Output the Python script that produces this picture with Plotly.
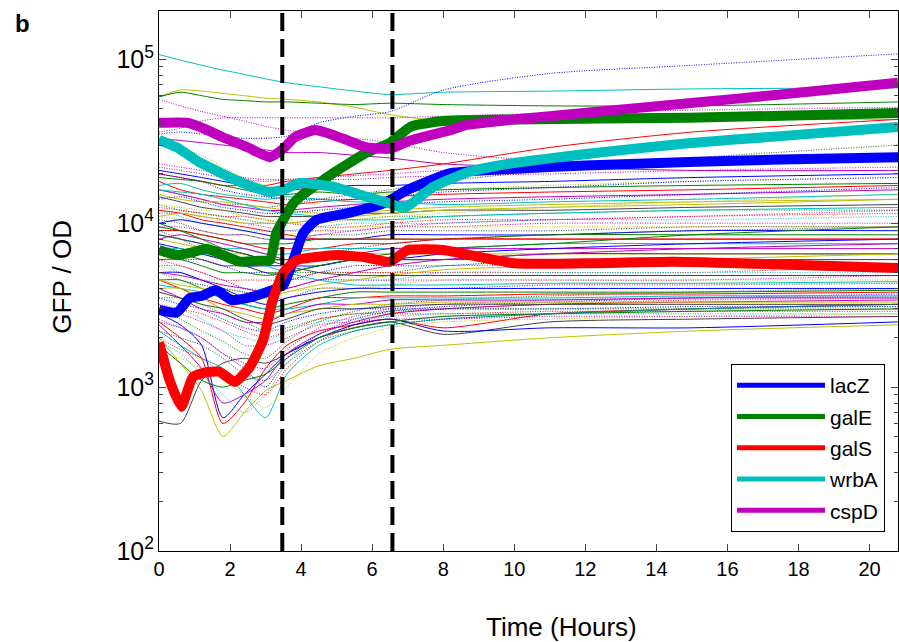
import plotly.graph_objects as go

# ---------------- data ----------------
# highlighted genes (time in hours, GFP/OD)
lacZ_t = [0, 0.5, 0.87, 1.2, 1.6, 2.04, 2.5, 3.03, 3.5, 3.78, 4.06, 4.44, 5.38, 6.32, 7.0, 8.2, 10, 12, 14.9, 17.5, 20.8]
lacZ_v = [2960, 2850, 3500, 3600, 3900, 3400, 3500, 3800, 4200, 5960, 8700, 10500, 11600, 13200, 16000, 20200, 21500, 22500, 23600, 24500, 25300]

galE_t = [0, 0.5, 1.0, 1.34, 1.8, 2.28, 2.8, 3.12, 3.3, 3.5, 3.78, 3.97, 4.9, 5.85, 6.5, 7.1, 8.0, 10, 14.9, 20.8]
galE_v = [6860, 6400, 6700, 6990, 6400, 5830, 5900, 5960, 8700, 10500, 13200, 14500, 20200, 27000, 31000, 39000, 42000, 43000, 44000, 47000]

galS_t = [0, 0.3, 0.63, 0.95, 1.3, 1.7, 2.14, 2.56, 2.93, 3.2, 3.5, 3.88, 4.5, 5.0, 5.8, 6.5, 7.0, 7.5, 8, 10, 12, 14.5, 17.5, 20.8]
galS_v = [1870, 1100, 760, 1150, 1230, 1240, 1075, 1330, 1940, 3400, 4980, 5960, 6250, 6400, 6200, 5820, 6860, 6940, 6860, 5700, 5700, 5820, 5600, 5330]

wrbA_t = [0, 0.5, 1.15, 1.7, 2.28, 2.7, 3.1, 3.5, 3.97, 4.9, 5.85, 6.5, 6.9, 7.73, 8.67, 9.6, 12.4, 14.9, 17.5, 20.8]
wrbA_v = [32300, 29000, 23500, 20500, 17900, 16500, 15500, 16000, 17600, 16700, 14500, 13200, 12400, 16700, 20400, 22600, 27000, 30800, 34000, 38600]

cspD_t = [0, 0.8, 1.3, 1.78, 2.5, 3.12, 3.5, 3.83, 4.4, 5.15, 5.85, 6.5, 7.07, 8.2, 8.67, 10, 12.4, 14.9, 17.5, 20.8]
cspD_v = [41000, 41000, 37500, 33600, 29000, 25300, 28500, 33600, 37000, 33000, 29000, 28500, 32000, 37000, 39800, 43000, 48000, 54000, 61000, 72000]

gene_names = ["lacZ", "galE", "galS", "wrbA", "cspD"]

# all other promoters, sampled at common times (GFP/OD in thousands)
bg_t = [0, 0.6, 1.2, 1.8, 2.4, 3.0, 3.6, 4.5, 5.5, 6.5, 8, 11, 15, 20.8]
bg_k = [
    # outliers
    [107, 99, 92, 86, 81, 76, 72, 68, 64, 61, 63, 64, 66, 67],
    [59, 65, 64, 62, 60, 58, 57, 55, 51, 46, 42, 42, 43, 43],
    [59, 63, 60, 57, 56, 55, 55, 54, 53, 54, 53, 52, 52, 55],
    [57, 52, 48, 45, 42, 39, 37, 35, 33, 31, 27, 24, 24, 24],
    [35, 36, 35, 34, 33, 33, 34, 41, 45, 48, 65, 82, 92, 108],
    [36, 38, 42, 44, 44, 44, 44, 44, 44, 44, 45, 47, 49, 51],
    [33, 32, 31, 30, 29, 28, 27, 27, 26, 25, 23, 22, 21, 21],
    [20, 19, 18, 17, 17, 17, 18, 19, 20, 21, 23, 29, 36, 43],
    [33, 29, 26, 22, 19, 17, 16, 16, 15.5, 15, 16, 17, 18, 19],
    [22, 21, 20, 19, 18.5, 18, 18.5, 19, 19.5, 20, 21, 22, 23, 24],
    [16, 15, 14, 13, 13, 12.5, 13, 14, 15, 16, 18, 21, 25, 30],
    # early dippers
    [2.0, 1.4, 0.95, 0.5, 0.7, 0.95, 1.1, 1.35, 1.5, 1.7, 1.8, 2.0, 2.2, 2.4],
    [0.62, 0.6, 1.1, 1.4, 1.5, 1.4, 1.6, 2.0, 2.3, 2.5, 2.1, 2.5, 2.6, 2.7],
    [2.5, 2.0, 1.5, 0.6, 0.8, 1.3, 1.8, 2.2, 2.4, 2.6, 2.3, 2.8, 3.0, 3.2],
    [2.2, 1.8, 1.5, 1.3, 0.9, 0.65, 1.2, 1.8, 2.2, 2.4, 2.6, 2.8, 3.0, 3.2],
    [2.8, 2.4, 1.8, 0.65, 0.9, 1.2, 1.6, 2.0, 2.4, 2.6, 2.2, 2.3, 2.3, 2.5],
    [2.4, 1.8, 1.3, 0.8, 0.9, 1.1, 1.6, 2.1, 2.5, 2.8, 3.0, 3.2, 3.3, 3.4],
    [1.9, 1.6, 1.2, 0.9, 0.7, 0.9, 1.4, 2.0, 2.3, 2.5, 2.7, 2.8, 3.0, 3.1],
    [1.8, 1.4, 1.1, 1.0, 1.1, 1.2, 1.5, 2.0, 2.3, 2.5, 2.7, 2.8, 2.9, 3.0],
    [1.6, 1.5, 1.3, 1.1, 0.9, 0.75, 1.0, 1.6, 2.0, 2.3, 2.5, 2.6, 2.7, 2.8],
    [2.0, 1.7, 1.5, 1.2, 1.0, 0.9, 1.3, 1.9, 2.4, 2.8, 3.0, 3.2, 3.4, 3.5],
    [2.5, 2.3, 2.0, 1.6, 1.3, 1.0, 1.5, 2.1, 2.6, 2.9, 3.1, 3.3, 3.5, 3.7],
    [2.2, 2.0, 1.8, 1.5, 1.2, 1.1, 1.4, 1.9, 2.2, 2.4, 2.6, 2.8, 3.0, 3.2],
    [2.6, 2.3, 2.0, 1.6, 1.4, 1.3, 1.7, 2.3, 2.7, 3.0, 3.2, 3.4, 3.5, 3.6],
    [3.0, 2.6, 2.2, 1.9, 1.6, 1.5, 1.9, 2.5, 2.9, 3.2, 3.4, 3.6, 3.8, 4.0],
    # main band
    [21, 20, 19, 18, 17, 16.5, 16, 16.5, 17, 17, 17.5, 18, 19, 20],
    [19, 18.5, 18, 17, 16, 15, 15, 15.5, 15, 15.5, 16, 16.5, 17, 17.5],
    [18, 16, 15, 14.5, 14, 13.5, 13, 13.5, 14, 14.5, 15, 15.5, 16, 17],
    [17, 17.5, 16, 15, 14.5, 14, 14.5, 14, 13.5, 13.5, 13, 13.5, 14, 15],
    [16, 15, 14, 13, 12.5, 12, 12, 12.5, 13, 13.5, 14, 14.5, 15, 16],
    [15, 14, 13.5, 13.5, 13, 12.5, 12, 11.5, 11.5, 12, 12.5, 13, 13.5, 14],
    [14.5, 13.5, 12.5, 12, 11.5, 11, 11, 11, 11.5, 11.5, 12, 12, 12.5, 13],
    [14, 14.5, 13.5, 12.5, 12, 11.5, 11.5, 12, 12.5, 13, 13.5, 14, 15, 16.5],
    [13, 12, 11.5, 11, 10.5, 10, 10, 10.5, 10.5, 11, 11, 11.5, 12, 12],
    [12.5, 12, 11.5, 11, 11, 10.5, 10, 9.5, 9.5, 10, 10.5, 10.5, 11, 11.5],
    [12, 11, 10, 9.5, 9, 9, 9, 9.5, 10, 10, 10, 10.5, 10.5, 11],
    [11.5, 11.5, 11, 10.5, 10, 9.5, 9, 9, 9, 9.5, 9.5, 10, 10, 10],
    [11, 10.5, 10, 9.5, 9, 8.5, 8.5, 9, 9.5, 9.5, 9.5, 9.5, 9.5, 9.5],
    [10.5, 10, 9, 8.5, 8.5, 8, 8, 8.5, 8.5, 9, 9, 9, 9.5, 9.5],
    [10, 10.5, 10, 9.5, 9, 8.5, 8, 8, 8, 8.5, 8.5, 8.5, 9, 9],
    [9.5, 9, 8.5, 8, 7.5, 7.5, 7.5, 8, 8, 8, 8, 8.5, 8.5, 8.5],
    [9, 9, 8.5, 8, 7.5, 7, 7, 7, 7.5, 7.5, 8, 8, 8, 8],
    [8.5, 8, 7.5, 7, 7, 6.5, 6.5, 7, 7, 7, 7, 7.5, 7.5, 7.5],
    [8, 8.5, 8, 7.5, 7, 6.5, 6, 6.5, 6.5, 7, 7, 7, 7, 7],
    [8, 7.5, 7, 6.5, 6.5, 6, 6, 6, 6.5, 6.5, 6.5, 6.5, 6.5, 6.5],
    [7, 6.5, 6, 5.5, 5.5, 5, 5, 5.5, 6, 6, 6, 6.5, 6.5, 6.5],
    [6.5, 6, 6, 5.5, 5, 5, 4.5, 5, 5.5, 5.5, 5.5, 6, 6, 6],
    [6.5, 7, 6.5, 6, 5.5, 5, 5, 5, 5, 5, 5.5, 5.5, 5.5, 5.5],
    [6, 5.5, 5, 4.5, 4.5, 4.5, 4.5, 5, 5, 5, 5, 5, 5, 5.5],
    [6, 5, 4.5, 4.5, 4, 4, 4.5, 4.5, 4.5, 4.5, 5, 5, 5, 5],
    [5.5, 5.5, 5, 4.5, 4, 3.8, 4, 4.5, 4.5, 4.5, 4.5, 4.5, 4.5, 4.8],
    [5.5, 5, 4.5, 4, 3.8, 3.5, 3.8, 4, 4, 4.2, 4.5, 4.5, 4.5, 4.5],
    [5, 4.5, 4.2, 4, 3.8, 3.5, 3.5, 4, 4, 4, 4, 4.2, 4.2, 4.3],
    [5, 5, 4.5, 4, 3.5, 3.2, 3.5, 3.8, 4, 4, 4, 4, 4, 4],
    [4.5, 4.5, 4, 3.5, 3.2, 3, 3.2, 3.5, 3.8, 3.8, 3.8, 3.8, 3.8, 3.9],
    [4.5, 4, 3.5, 3.2, 3, 2.8, 3, 3.5, 3.5, 3.6, 3.6, 3.7, 3.7, 3.8],
    [4.2, 4, 3.8, 3.5, 3.2, 3, 3, 3.2, 3.5, 3.5, 3.5, 3.5, 3.6, 3.6],
    [4, 3.5, 3, 2.8, 2.5, 2.5, 2.8, 3.2, 3.2, 3.4, 3.4, 3.4, 3.5, 3.5],
    [4, 4, 3.5, 3, 2.8, 2.6, 2.8, 3, 3.2, 3.2, 3.3, 3.3, 3.3, 3.3],
    [3.8, 3.5, 3.2, 3, 2.6, 2.4, 2.6, 3, 3, 3.1, 3.2, 3.2, 3.2, 3.2],
    [3.5, 3.2, 3, 2.6, 2.3, 2.2, 2.5, 2.8, 3, 3, 3, 3, 3.1, 3.1],
    [3.5, 3.5, 3.2, 2.8, 2.5, 2.2, 2.3, 2.6, 2.8, 2.9, 3, 3, 3, 3],
    [3.2, 3, 2.8, 2.5, 2.2, 2, 2.2, 2.6, 2.8, 2.8, 2.8, 2.9, 2.9, 2.9],
    [3, 3, 2.6, 2.2, 2, 1.9, 2.2, 2.5, 2.6, 2.7, 2.8, 2.8, 2.8, 2.8],
    [3, 2.8, 2.5, 2.2, 1.8, 1.8, 2, 2.4, 2.5, 2.6, 2.6, 2.7, 2.7, 2.7],
    [13, 12.5, 12, 12, 11, 10.5, 10, 10, 10.5, 11, 11.5, 12.5, 13.5, 15],
    [9, 8, 7, 6.5, 6, 6, 6, 6.5, 7, 7.5, 8, 8.5, 9, 9.5],
    [7.5, 7, 6.5, 6, 5.5, 5.5, 5.5, 5.5, 6, 6, 6.5, 7, 7.5, 8],
    [10, 9, 8, 7, 6.5, 6, 6, 6, 6, 6, 6, 6, 6, 6],
    [12, 11.5, 10.5, 10, 9.5, 9, 8.5, 8, 8, 8, 8, 8, 8, 8],
    [16, 15.5, 15, 14, 13, 12, 11.5, 11, 10.5, 10.5, 11, 11.5, 12, 12.5],
    [5, 4.8, 4.5, 4.2, 4, 3.8, 4, 4.5, 5, 5.5, 6, 6.5, 7, 7.5],
    [4.5, 4.2, 4, 3.8, 3.5, 3.5, 3.8, 4.2, 4.5, 4.8, 5.2, 5.5, 6, 6.5],
    [8.5, 8, 7.5, 7, 6.5, 6, 5.5, 5, 4.8, 4.8, 4.8, 4.8, 4.8, 4.8],
    [7, 7, 6.5, 6.5, 6, 5.5, 5, 4.5, 4.2, 4.2, 4.2, 4.3, 4.3, 4.4],
    [11, 11.5, 11, 10.5, 10, 10, 10, 10.5, 11, 11.5, 12, 12.5, 13, 14],
    [6, 6, 5.5, 5, 5, 4.8, 5, 5.5, 6, 6.5, 7, 7.5, 8.5, 9.5],
    [9.5, 9.5, 9, 8.5, 8.5, 8, 8, 8.5, 9, 9.5, 10, 10.5, 11, 12],
    [20, 19, 18, 16, 15, 14.5, 14, 14, 14, 14.5, 15.5, 16.5, 18, 19],
    [23, 22, 21, 20, 19, 18.5, 18.5, 18.5, 18.5, 19, 19.5, 20, 21, 22],
]
# colour code of each background trace (MATLAB letters); upper-case = dotted
bg_codes = ("cygMBMmrYMK" + "ykrcbmCgYRBKMG"
            + "bgrcmykBGRCMYKbgrcmykBGRCMYKbgrcmykBGRCMYKbgrcmyk")
phase_boundaries = [3.47, 6.57]
x_ticks = list(range(0, 21, 2))

# ---------------- style ----------------
mat = {"b": "#0000ff", "g": "#008000", "r": "#ff0000", "c": "#00bfbf",
       "m": "#bf00bf", "y": "#bfbf00", "k": "#404040"}
FONT = "Liberation Sans, Arial, sans-serif"

fig = go.Figure()
for i, vals in enumerate(bg_k):
    code = bg_codes[i % len(bg_codes)]
    fig.add_trace(go.Scatter(
        x=bg_t, y=[v * 1000 for v in vals], mode="lines",
        line=dict(color=mat[code.lower()], width=1,
                  dash="1px,1.5px" if code.isupper() else "solid",
                  shape="spline", smoothing=0.7),
        showlegend=False, hoverinfo="skip"))

genes = [(lacZ_t, lacZ_v, "b"), (galE_t, galE_v, "g"), (galS_t, galS_v, "r"),
         (wrbA_t, wrbA_v, "c"), (cspD_t, cspD_v, "m")]
for name, (t, v, c) in zip(gene_names, genes):
    fig.add_trace(go.Scatter(
        x=t, y=v, mode="lines", name=name, legendgroup=name, showlegend=False,
        line=dict(color=mat[c], width=10, shape="spline", smoothing=0.5)))
# legend keys (thinner line samples, as in the original legend)
for name, (t, v, c) in zip(gene_names, genes):
    fig.add_trace(go.Scatter(
        x=[None], y=[None], mode="lines", name=name, legendgroup=name,
        line=dict(color=mat[c], width=5)))

for xb in phase_boundaries:
    fig.add_shape(type="line", xref="x", yref="paper", x0=xb, x1=xb, y0=0, y1=1,
                  line=dict(color="black", width=4, dash="18px,8px"))

fig.add_annotation(text="<b>b</b>", xref="paper", yref="paper", x=-0.1847, y=0.977,
                   xanchor="center", yanchor="middle", showarrow=False,
                   font=dict(family=FONT, size=24, color="black"))
fig.add_annotation(text="Time (Hours)", xref="paper", yref="paper", x=0.545, y=-0.1407,
                   xanchor="center", yanchor="middle", showarrow=False,
                   font=dict(family=FONT, size=26, color="black"))
fig.add_annotation(text="GFP / OD", xref="paper", yref="paper", x=-0.1306, y=0.509,
                   xanchor="center", yanchor="middle", showarrow=False, textangle=-90,
                   font=dict(family=FONT, size=26, color="black"))

fig.update_layout(
    width=899, height=642, margin=dict(l=159, r=1, t=11, b=91),
    paper_bgcolor="white", plot_bgcolor="white",
    font=dict(family=FONT, size=20, color="black"),
    legend=dict(x=0.774, y=0.3463, xanchor="left", yanchor="top",
                bordercolor="black", borderwidth=1, bgcolor="white",
                font=dict(size=21), itemwidth=88, tracegroupgap=1),
    xaxis=dict(range=[0, 20.8], tickvals=x_ticks, ticks="inside", ticklen=7,
               showline=True, linecolor="black", linewidth=1, mirror="ticks",
               showgrid=False, zeroline=False),
    yaxis=dict(type="log", range=[2, 5.295], dtick=1, exponentformat="power",
               ticks="inside", ticklen=7, showline=True, linecolor="black",
               linewidth=1, mirror="ticks", showgrid=False, zeroline=False,
               minor=dict(ticks="inside", ticklen=4, dtick="D1", showgrid=False)),
)

fig.write_html("out.html")
